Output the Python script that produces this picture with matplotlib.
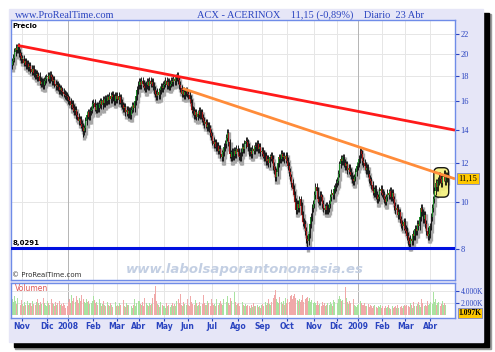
import numpy as np
import matplotlib.pyplot as plt
from matplotlib.patches import Rectangle, FancyBboxPatch
from matplotlib.transforms import blended_transform_factory, IdentityTransform

# month labels on the x axis (first entry = partial Oct 2007, no label)
month_labels = ["", "Nov", "Dic", "2008", "Feb", "Mar", "Abr", "May", "Jun", "Jul",
                "Ago", "Sep", "Oct", "Nov", "Dic", "2009", "Feb", "Mar", "Abr"]

# daily closes, one list per month
c_oct07 = [19.3, 19.6, 20.2, 20.6, 20.4, 20.7, 20.1, 19.8, 19.5]
c_nov07 = [19.5, 19.2, 19.3, 19.0, 19.1, 18.8, 18.9, 18.6, 18.4, 18.6, 18.3, 18.1, 18.2, 17.9,
           18.0, 17.6, 17.4, 17.5, 17.3, 17.6, 17.8, 17.9]
c_dec07 = [18.0, 17.8, 18.1, 17.9, 17.6, 17.7, 17.4, 17.2, 17.3, 17.1, 16.9, 17.0, 16.8, 16.7,
           16.6, 16.5, 16.4, 16.3]
c_jan08 = [16.1, 16.0, 15.7, 15.8, 15.5, 15.3, 15.4, 15.0, 14.9, 14.6, 14.7, 14.4, 14.2, 13.9,
           14.1, 14.6, 15.0, 15.2, 14.9, 15.3, 15.4, 15.8]
c_feb08 = [15.9, 15.6, 15.4, 15.7, 15.5, 15.8, 16.0, 15.7, 16.1, 15.9, 16.2, 16.0, 16.3, 16.1,
           16.4, 16.2, 16.5, 16.3, 16.0, 16.4, 16.2]
c_mar08 = [16.4, 16.1, 16.3, 15.9, 15.7, 15.5, 15.6, 15.2, 15.4, 15.1, 15.3, 15.0, 15.4, 15.7,
           15.5, 16.0, 16.4, 16.9, 17.3]
c_apr08 = [17.5, 17.3, 17.6, 17.4, 17.2, 17.0, 17.3, 17.5, 17.2, 17.6, 17.4, 17.5, 17.2, 16.9,
           16.6, 16.4, 16.7, 16.5, 16.9, 17.1, 17.0, 17.3]
c_may08 = [17.4, 17.6, 17.3, 17.5, 17.2, 17.4, 17.6, 17.5, 17.8, 17.6, 17.9, 18.0, 17.7, 17.3,
           17.0, 16.6, 16.8, 16.5, 16.7, 16.8, 16.6]
c_jun08 = [16.5, 16.2, 15.9, 15.4, 15.3, 15.0, 15.2, 14.9, 15.1, 15.3, 15.0, 15.2, 14.8, 14.6,
           14.4, 14.5, 14.2, 14.3, 14.1, 13.8, 13.6]
c_jul08 = [13.3, 13.1, 13.2, 12.9, 13.0, 12.7, 12.8, 12.5, 12.3, 12.6, 12.9, 13.1, 13.5, 13.8,
           13.2, 12.5, 12.3, 12.6, 12.4, 12.7, 12.5, 12.8, 12.6]
c_aug08 = [12.4, 12.3, 12.6, 12.9, 12.8, 13.1, 13.3, 13.2, 12.9, 12.6, 12.7, 12.5, 12.8, 12.7,
           13.0, 12.9, 13.1, 12.8, 12.9, 12.6, 12.7]
c_sep08 = [12.5, 12.3, 12.4, 12.1, 12.2, 12.0, 12.3, 12.4, 12.2, 11.8, 11.6, 11.2, 11.5, 12.0,
           12.3, 12.2, 12.5, 12.3, 12.4, 12.2, 12.4, 12.1]
c_oct08 = [11.8, 11.5, 11.2, 10.9, 10.6, 10.3, 10.0, 9.6, 9.9, 9.7, 10.1, 9.8, 9.4, 9.1, 9.0,
           8.7, 8.4, 8.3, 8.6, 9.0, 9.3, 9.7, 9.9]
c_nov08 = [10.3, 10.7, 10.5, 10.1, 10.0, 10.3, 10.2, 9.9, 9.7, 9.6, 9.8, 9.6, 9.7, 9.9, 10.2,
           10.4, 10.3, 10.6, 10.7, 10.9]
c_dec08 = [11.0, 11.4, 11.9, 12.2, 12.1, 12.3, 12.0, 11.8, 11.9, 11.6, 11.7, 11.5, 11.3, 11.1,
           11.0, 11.2, 11.5, 11.8, 12.0]
c_jan09 = [12.2, 12.7, 12.5, 12.1, 12.0, 11.8, 11.6, 11.7, 11.4, 11.1, 11.0, 10.8, 10.5, 10.4,
           10.6, 10.3, 10.1, 10.2, 10.5, 10.6, 10.4]
c_feb09 = [10.3, 10.1, 10.0, 10.2, 10.4, 10.3, 10.5, 10.2, 10.4, 10.1, 9.8, 9.6, 9.7, 9.4, 9.5,
           9.2, 9.0, 8.9, 9.1, 8.8]
c_mar09 = [8.7, 8.5, 8.3, 8.2, 8.4, 8.3, 8.6, 8.5, 8.8, 8.7, 9.0, 8.9, 9.3, 9.7, 9.5, 9.2, 9.4,
           9.0, 8.7, 8.5, 8.6, 8.9]
c_apr09 = [9.3, 9.7, 10.1, 10.5, 10.9, 10.7, 11.0, 11.3, 11.1, 10.9, 11.2, 11.4, 11.0, 11.3, 11.15]

# daily volume in thousands of shares
v_oct07 = [2600, 2200, 3200, 2400, 1800, 2900, 2100, 1700, 2500]
v_nov07 = [1800, 1500, 2100, 1700, 2300, 1600, 1900, 2000, 1500, 2400, 1800, 1700, 2200, 2600,
           1900, 1600, 2100, 1800, 2800, 2000, 1700, 1500]
v_dec07 = [2300, 1900, 1600, 2700, 2000, 1800, 1500, 2100, 1700, 1900, 2400, 1600, 1800, 1400,
           1900, 1600, 1200, 1500]
v_jan08 = [2200, 2600, 1900, 3400, 2300, 2800, 2100, 3100, 2500, 2000, 2900, 2400, 3300, 2700,
           2200, 1900, 2600, 2100, 2400, 1800, 2000, 2300]
v_feb08 = [3200, 2500, 1900, 2200, 1700, 2600, 2000, 1500, 1800, 2300, 1600, 1400, 2100, 1700,
           1500, 1900, 1600, 1300, 1800, 2200, 1500]
v_mar08 = [1700, 1400, 2000, 1600, 1800, 2500, 1500, 1300, 1900, 1600, 1700, 2100, 1400, 1200,
           1600, 2700, 1500, 1900, 2300]
v_apr08 = [2400, 1800, 1600, 2100, 1500, 2800, 1900, 1700, 1400, 2000, 1600, 1800, 2900, 3600,
           4900, 2300, 1800, 1600, 1300, 2200, 1700, 1500]
v_may08 = [1500, 1200, 1900, 1400, 1700, 1300, 1600, 2000, 1400, 1800, 1500, 2400, 2700, 2000,
           3500, 1700, 1500, 2200, 1800, 1600, 2600]
v_jun08 = [1700, 1500, 3200, 2100, 1800, 1600, 2500, 1900, 1400, 1700, 2200, 1500, 1800, 3400,
           2000, 1600, 1700, 2300, 1900, 1500, 2600]
v_jul08 = [2000, 1700, 1800, 1500, 2600, 1600, 1900, 2400, 1800, 1700, 2700, 1500, 2100, 3100,
           1900, 1700, 2800, 2300, 1800, 3900, 2200, 1600, 1800]
v_aug08 = [1900, 1500, 1300, 2200, 1600, 1400, 1800, 1500, 1700, 1400, 1200, 1600, 1300, 2000,
           1500, 1400, 1700, 1300, 1500, 1200, 1600]
v_sep08 = [1800, 1500, 2200, 1700, 2000, 2600, 1800, 1600, 2100, 2900, 3300, 4200, 2700, 2200,
           1900, 3000, 2100, 1800, 2400, 1600, 2800, 2000]
v_oct08 = [2600, 2200, 3100, 3400, 2700, 3200, 3600, 2800, 2500, 2300, 2700, 2200, 2500, 3300,
           2100, 2600, 2900, 3000, 2400, 2800, 2200, 2500, 2000]
v_nov08 = [2200, 1900, 1700, 2400, 1600, 1800, 1500, 2100, 1700, 1900, 1400, 1700, 2000, 1600,
           2200, 1800, 1500, 2500, 2100, 1700]
v_dec08 = [1900, 2600, 3100, 2700, 2300, 2500, 2100, 4800, 2900, 2200, 1800, 2400, 2000, 3100,
           2600, 1700, 1400, 1300, 1600]
v_jan09 = [1800, 2400, 2000, 1700, 1600, 1900, 1500, 1400, 1800, 1300, 1600, 1500, 1200, 1400,
           1700, 1300, 1100, 1500, 1300, 1600, 1200]
v_feb09 = [1400, 1200, 1500, 1100, 1300, 1600, 1200, 1000, 1400, 1100, 1300, 1500, 1200, 1700,
           1100, 1300, 1400, 1200, 1500, 1600]
v_mar09 = [1400, 1700, 1500, 1300, 2000, 1600, 1200, 2200, 1500, 1400, 1800, 2100, 1600, 1300,
           2600, 1900, 1500, 1700, 1400, 2400, 1600, 1800]
v_apr09 = [2200, 1800, 3800, 2100, 2600, 1700, 1900, 2200, 1500, 1800, 2400, 1600, 2000, 1700, 1097]

first_open = 19.0
# (month number, day in month, low) for the long lower wicks
low_marks = [(3, 13, 13.55), (12, 17, 8.03), (17, 3, 8.06)]

support = 8.0291
red_pts = [(5, 20.8), (144, 18.0)]        # (bar index, price)
orange_pts = [(149, 17.0), (306, 12.85)]

closes_by_month = [c_oct07, c_nov07, c_dec07, c_jan08, c_feb08, c_mar08, c_apr08, c_may08,
                   c_jun08, c_jul08, c_aug08, c_sep08, c_oct08, c_nov08, c_dec08, c_jan09,
                   c_feb09, c_mar09, c_apr09]
vols_by_month = [v_oct07, v_nov07, v_dec07, v_jan08, v_feb08, v_mar08, v_apr08, v_may08,
                 v_jun08, v_jul08, v_aug08, v_sep08, v_oct08, v_nov08, v_dec08, v_jan09,
                 v_feb09, v_mar09, v_apr09]

for c, v in zip(closes_by_month, vols_by_month):
    assert len(c) == len(v), (len(c), len(v))

closes = np.concatenate([np.array(m, float) for m in closes_by_month])
volumes = np.concatenate([np.array(m, float) for m in vols_by_month])
month_starts = np.cumsum([0] + [len(m) for m in closes_by_month[:-1]])
n = len(closes)
idx = np.arange(n)
opens = np.r_[first_open, closes[:-1]]
highs = np.maximum(opens, closes) * 1.018
lows = np.minimum(opens, closes) * 0.982
for mo, d, lo in low_marks:
    lows[month_starts[mo] + d] = lo
up = closes >= opens

W, H = 495, 352
BLUE = "#2a44c0"
SPINE = "#6f8ce8"
GRID = "#e6e6e6"

fig = plt.figure(figsize=(W / 100, H / 100), dpi=100)
fig.patch.set_facecolor("white")


def fbox(x0, y0, x1, y1):
    return (x0 / W, 1 - y1 / H, (x1 - x0) / W, (y1 - y0) / H)


x, y, w, h = fbox(15, 14, 491, 349)
fig.add_artist(Rectangle((x, y), w, h, transform=fig.transFigure, color="#9a9a9a", zorder=0))
x, y, w, h = fbox(14, 13, 489, 347)
fig.add_artist(Rectangle((x, y), w, h, transform=fig.transFigure, color="black", zorder=0))
x, y, w, h = fbox(9, 9, 483, 342)
fig.add_artist(Rectangle((x, y), w, h, transform=fig.transFigure, color="#e6e6f7", zorder=0))

serif = "Liberation Serif"
fig.text(15 / W, 1 - 15.5 / H, "www.ProRealTime.com", color=BLUE, fontsize=7.5,
         family=serif, va="center", ha="left")
fig.text(197 / W, 1 - 15.5 / H,
         "ACX - ACERINOX    11,15 (-0,89%)    Diario  23 Abr",
         color=BLUE, fontsize=7.5, family=serif, va="center", ha="left")

ax = fig.add_axes(fbox(11, 20, 455, 280))
vax = fig.add_axes(fbox(11, 283, 455, 318), sharex=ax)

xmin, xmax = -1, n + 6
ax.set_xlim(xmin, xmax)
ax.set_yscale("log")
ax.set_ylim(6.92, 23.44)
price_ticks = [8, 10, 12, 14, 16, 18, 20, 22]
ax.yaxis.tick_right()
ax.set_yticks(price_ticks)
ax.set_yticklabels([str(t) for t in price_ticks])
ax.yaxis.set_minor_locator(plt.NullLocator())
ax.tick_params(axis="y", colors=BLUE, labelsize=6, length=3, width=0.8, pad=1)
for lab in ax.get_yticklabels():
    lab.set_family(serif)
ax.tick_params(axis="x", bottom=False, labelbottom=False)

for a in (ax, vax):
    a.set_facecolor("white")
    for s in a.spines.values():
        s.set_color(SPINE)
        s.set_linewidth(1)

# grid
for t in price_ticks:
    ax.axhline(t, color=GRID, lw=0.7, zorder=0)
for k, ms in enumerate(month_starts[1:], start=1):
    col = "#b4b4b4" if month_labels[k] in ("2008", "2009") else GRID
    ax.axvline(ms - 0.5, color=col, lw=0.7, zorder=0)
    vax.axvline(ms - 0.5, color=col, lw=0.7, zorder=0)

# candle shadows, wicks and bodies
ax.vlines(idx + 0.9, lows * 0.985, highs * 0.985, color="#a8a8a8", lw=2.4, zorder=2)
ax.vlines(idx, lows, highs, color="black", lw=0.6, zorder=3)
body_lo = np.minimum(opens, closes)
body_hi = np.maximum(opens, closes)
body_h = np.maximum(body_hi - body_lo, body_lo * 0.004)
ax.bar(idx, body_h, bottom=body_lo, width=0.8,
       color=np.where(up, "#1f8a2a", "#a01818"), edgecolor="none", zorder=4)


# trend lines
def trend(pts, x0):
    (xa, pa), (xb, pb) = pts
    slope = (np.log(pb) - np.log(pa)) / (xb - xa)
    xs = np.array([x0, xmax])
    return xs, pa * np.exp(slope * (xs - xa))


xs, ys = trend(red_pts, red_pts[0][0])
ax.plot(xs, ys, color="#ff1a1a", lw=2.0, zorder=5, solid_capstyle="butt")
xs, ys = trend(orange_pts, orange_pts[0][0])
ax.plot(xs, ys, color="#ff8c3a", lw=2.0, zorder=5, solid_capstyle="butt")
ax.axhline(support, color="#0010e0", lw=2.2, zorder=5)

tr = blended_transform_factory(ax.transAxes, ax.transData)
ax.text(0.004, support * 1.012, "8,0291", transform=tr, fontsize=5, fontweight="bold",
        va="bottom", ha="left")
ax.text(0.004, 0.99, "Precio", transform=ax.transAxes, fontsize=5, fontweight="bold",
        va="top", ha="left")
ax.text(0.003, 0.006, "\u00a9 ProRealTime.com", transform=ax.transAxes, fontsize=5,
        va="bottom", ha="left", color="#333333")
ax.text(0.527, 0.04, "www.labolsaporantonomasia.es", transform=ax.transAxes, fontsize=9.5,
        style="italic", fontweight="bold", color="#c3cfe3", ha="center", va="center", zorder=1)

# yellow highlight round the last candles
fig.canvas.draw()
last = slice(n - 11, n)
p0 = ax.transData.transform((idx[last][0] - 1.5, lows[last].min() * 0.99))
p1 = ax.transData.transform((idx[last][-1] + 1.5, highs[last].max() * 1.01))
ax.add_patch(FancyBboxPatch((p0[0], p0[1]), p1[0] - p0[0], p1[1] - p0[1],
                            boxstyle="round,pad=0,rounding_size=5",
                            transform=IdentityTransform(), fc="#f3f07a", ec="black",
                            lw=1.0, alpha=0.9, zorder=2.5))

ax.annotate(f"{closes[-1]:.2f}".replace(".", ","), xy=(1, closes[-1]), xycoords=tr,
            xytext=(2.5, 0), textcoords="offset points", fontsize=6, family=serif,
            va="center", ha="left", annotation_clip=False,
            bbox=dict(boxstyle="square,pad=0.15", fc="#ffc800", ec="#7a86c8", lw=0.6))

# volume
vax.bar(idx, volumes, width=0.85, color=np.where(up, "#a9e2a0", "#f0a9a9"),
        edgecolor="none", zorder=2)
vax.set_ylim(-600, 5400)
vax.yaxis.tick_right()
vax.set_yticks([2000, 4000])
vax.set_yticklabels(["2.000K", "4.000K"])
vax.yaxis.set_minor_locator(plt.NullLocator())
vax.tick_params(axis="y", colors=BLUE, labelsize=5.5, length=3, width=0.8, pad=1)
for lab in vax.get_yticklabels():
    lab.set_family(serif)
for t in (2000, 4000):
    vax.axhline(t, color=GRID, lw=0.7, zorder=0)
vax.text(0.008, 0.96, "Volumen", transform=vax.transAxes, fontsize=5.5, color="#e05a5a",
         va="top", ha="left")
vtr = blended_transform_factory(vax.transAxes, vax.transData)
vax.annotate(f"{volumes[-1] / 1000:.3f}K", xy=(1, volumes[-1]),
             xycoords=vtr, xytext=(2.5, -3.5), textcoords="offset points", fontsize=5.5,
             family=serif, fontweight="bold", va="center", ha="left", annotation_clip=False,
             bbox=dict(boxstyle="square,pad=0.1", fc="#ffc800", ec="#7a86c8", lw=0.6))

vax.set_xticks(month_starts[1:] - 0.5)
vax.set_xticklabels(month_labels[1:])
vax.tick_params(axis="x", colors=BLUE, labelsize=5.5, length=2, width=0.8, pad=1)
for lab in vax.get_xticklabels():
    lab.set_fontweight("bold")

fig.savefig("out.png", dpi=100)
